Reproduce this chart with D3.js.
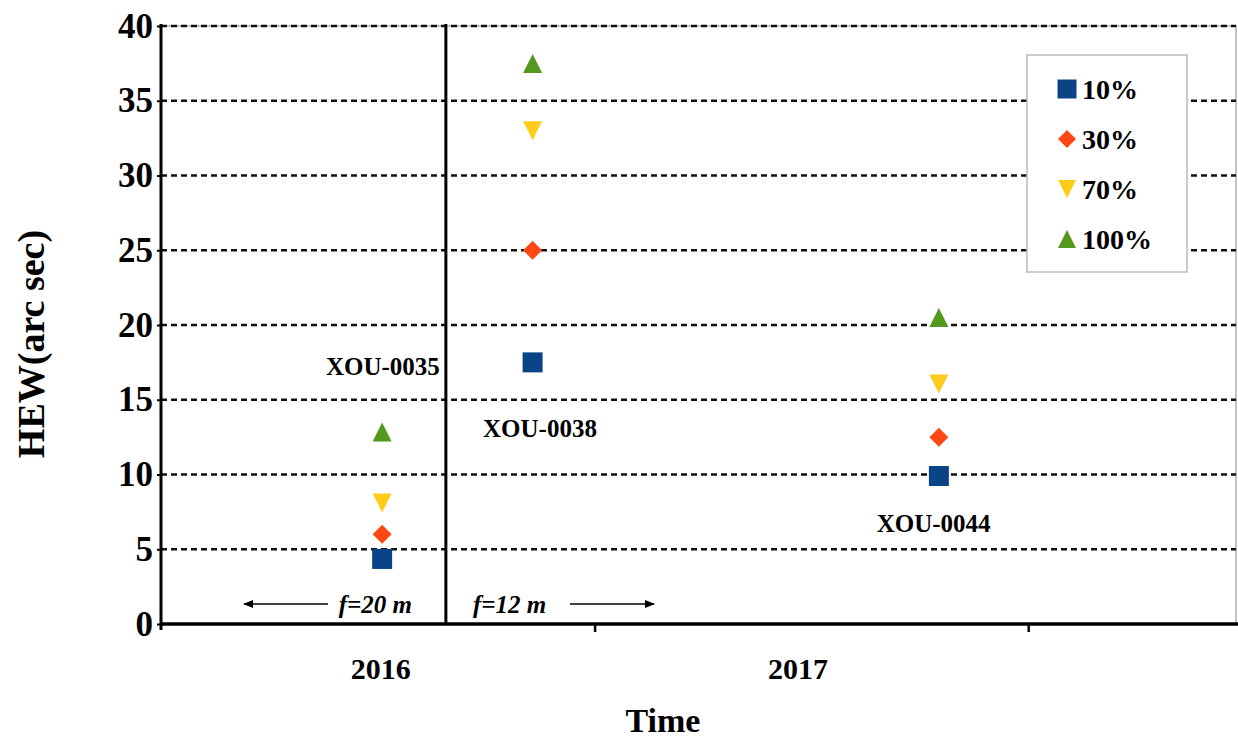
<!DOCTYPE html>
<html>
<head>
<meta charset="utf-8">
<script src="https://cdn.jsdelivr.net/npm/d3@7"></script>
<style>
  body { margin: 0; background: white; }
  text { font-family: "Liberation Serif", "Times New Roman", serif; font-weight: bold; }
</style>
</head>
<body>
<div id="chart"></div>
<script>
// data
const mirrors = ["XOU-0035", "XOU-0038", "XOU-0044"];
const mirrorX = [0.51, 0.857, 1.794];          // position along the time axis
const series = ["10%", "30%", "70%", "100%"];
const hew10 = [4.35, 17.5, 9.9];
const hew30 = [6.0, 25.0, 12.5];
const hew70 = [8.1, 33.0, 16.05];
const hew100 = [12.85, 37.5, 20.5];
const years = ["2016", "2017"];
const yearX = [0.507, 1.469];
const yTicks = [0, 5, 10, 15, 20, 25, 30, 35, 40];
const xTicks = [1, 2];
const mirrorLabelX = [0.643, 0.874, 1.782];
const mirrorLabelY = [16.65, 12.5, 6.15];
const dividerX = 0.657;

const colors = ["#0a4487", "#ff4713", "#ffcc1c", "#55981e"];
const shapes = ["square", "diamond", "down", "up"];
const seriesValues = [hew10, hew30, hew70, hew100];

const W = 1238, H = 740;
const svg = d3.select("#chart").append("svg")
  .attr("width", W)
  .attr("height", H);

const x = d3.scaleLinear().domain([0, 2.5]).range([161, 1245]);
const y = d3.scaleLinear().domain([0, 40]).range([624, 26]);

// marker path, centred on 0,0
function marker(shape, s) {
  const h = s / 2;
  if (shape === "square") return `M${-h},${-h}H${h}V${h}H${-h}Z`;
  if (shape === "diamond") return `M0,${-h}L${h},0L0,${h}L${-h},0Z`;
  if (shape === "up") return `M0,${-h}L${h},${h}L${-h},${h}Z`;
  return `M${-h},${-h}L${h},${-h}L0,${h}Z`;
}

// plot border (light grey)
svg.append("rect")
  .attr("x", 161).attr("y", 26)
  .attr("width", 1236 - 161).attr("height", 624 - 26)
  .style("fill", "none").style("stroke", "#b0b0b0").style("stroke-width", 1.5);

// dashed gridlines
svg.append("g").selectAll("line")
  .data(yTicks.filter(d => d > 0))
  .join("line")
  .attr("x1", 161).attr("x2", 1236)
  .attr("y1", d => y(d)).attr("y2", d => y(d))
  .style("stroke", "#111").style("stroke-width", 2.4)
  .style("stroke-dasharray", "6,4");

// vertical divider between f=20 m and f=12 m
svg.append("line")
  .attr("x1", x(dividerX)).attr("x2", x(dividerX))
  .attr("y1", 24).attr("y2", 624)
  .style("stroke", "black").style("stroke-width", 3);

// y axis
const yAxis = svg.append("g").attr("transform", "translate(161,0)")
  .call(d3.axisLeft(y).tickValues(yTicks).tickSize(4).tickPadding(4));
yAxis.select(".domain").remove();
yAxis.selectAll(".tick line").style("stroke", "black").style("stroke-width", 2);
yAxis.selectAll(".tick text")
  .attr("font-size", "35px")
  .attr("fill", "black")
  .style("font-family", "'Liberation Serif', serif");
svg.append("line")
  .attr("x1", 161).attr("x2", 161).attr("y1", 24).attr("y2", 630)
  .style("stroke", "black").style("stroke-width", 3);

// x axis
const xAxis = svg.append("g").attr("transform", "translate(0,624)")
  .call(d3.axisBottom(x).tickValues(xTicks).tickSize(8).tickFormat(""));
xAxis.select(".domain").remove();
xAxis.selectAll(".tick line").style("stroke", "black").style("stroke-width", 2.5);
svg.append("line")
  .attr("x1", 161).attr("x2", 1238).attr("y1", 624).attr("y2", 624)
  .style("stroke", "black").style("stroke-width", 3.5);

// year labels
svg.append("g").selectAll("text")
  .data(years)
  .join("text")
  .attr("x", (d, i) => x(yearX[i]))
  .attr("y", 679)
  .attr("text-anchor", "middle")
  .attr("font-size", "30px")
  .text(d => d);

// axis titles
svg.append("text")
  .attr("x", 663).attr("y", 732)
  .attr("text-anchor", "middle")
  .attr("font-size", "34px")
  .text("Time");
svg.append("text")
  .attr("transform", "translate(44,344) rotate(-90)")
  .attr("text-anchor", "middle")
  .attr("font-size", "38px")
  .text("HEW(arc sec)");

// mirror labels
svg.append("g").selectAll("text")
  .data(mirrors)
  .join("text")
  .attr("x", (d, i) => x(mirrorLabelX[i]))
  .attr("y", (d, i) => y(mirrorLabelY[i]))
  .attr("text-anchor", (d, i) => i === 0 ? "end" : "middle")
  .attr("font-size", "25px")
  .text(d => d);

// focal length notes with arrows
svg.append("defs").append("marker")
  .attr("id", "head")
  .attr("viewBox", "0 0 10 10")
  .attr("refX", 9).attr("refY", 5)
  .attr("markerWidth", 10).attr("markerHeight", 10)
  .attr("markerUnits", "userSpaceOnUse")
  .attr("orient", "auto")
  .append("path").attr("d", "M0,1L10,5L0,9Z").style("fill", "black");

svg.append("line")
  .attr("x1", 328).attr("x2", 244).attr("y1", 604).attr("y2", 604)
  .style("stroke", "black").style("stroke-width", 1.5)
  .attr("marker-end", "url(#head)");
svg.append("line")
  .attr("x1", 570).attr("x2", 654).attr("y1", 604).attr("y2", 604)
  .style("stroke", "black").style("stroke-width", 1.5)
  .attr("marker-end", "url(#head)");
svg.append("text")
  .attr("x", 412).attr("y", 613)
  .attr("text-anchor", "end")
  .attr("font-size", "25px")
  .style("font-style", "italic")
  .text("f=20 m");
svg.append("text")
  .attr("x", 473).attr("y", 613)
  .attr("font-size", "25px")
  .style("font-style", "italic")
  .text("f=12 m");

// data markers
series.forEach((s, k) => {
  svg.append("g").selectAll("path")
    .data(seriesValues[k])
    .join("path")
    .attr("transform", (d, i) => `translate(${x(mirrorX[i])},${y(d)})`)
    .attr("d", marker(shapes[k], shapes[k] === "square" ? 20 : 19))
    .style("fill", colors[k]);
});

// legend
const legend = svg.append("g");
legend.append("rect")
  .attr("x", 1027).attr("y", 55)
  .attr("width", 160).attr("height", 217)
  .style("fill", "white").style("stroke", "#bbb").style("stroke-width", 1.5);
const items = legend.selectAll("g.item")
  .data(series)
  .join("g")
  .attr("class", "item")
  .attr("transform", (d, i) => `translate(1067,${89 + i * 50})`);
items.append("path")
  .attr("d", (d, i) => marker(shapes[i], i === 0 ? 19 : 18))
  .style("fill", (d, i) => colors[i]);
items.append("text")
  .attr("x", 15).attr("y", 10)
  .attr("font-size", "28px")
  .text(d => d);
</script>
</body>
</html>
